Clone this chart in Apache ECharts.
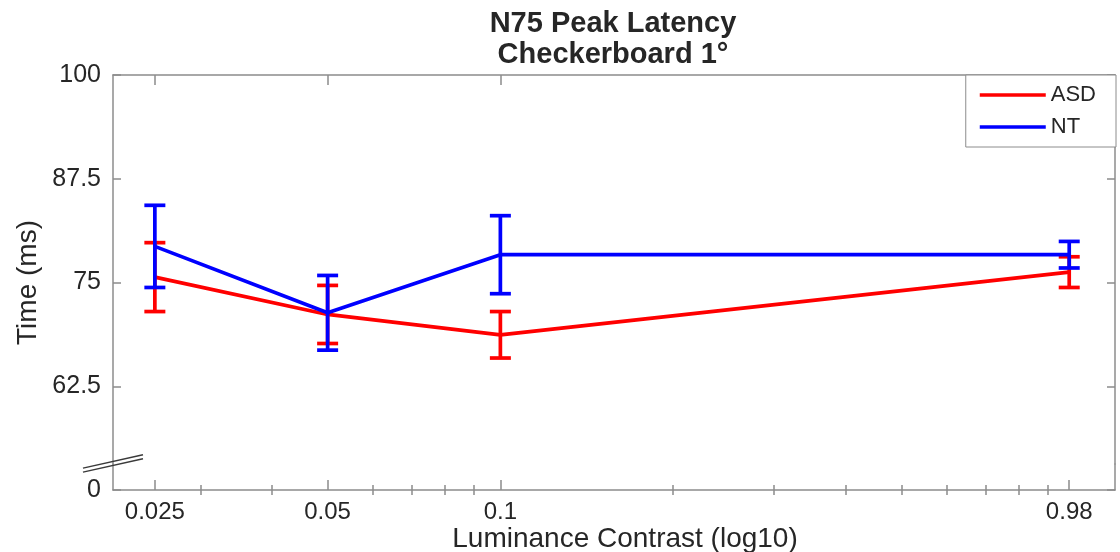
<!DOCTYPE html>
<html>
<head>
<meta charset="utf-8">
<style>
  html, body { margin: 0; padding: 0; background: #ffffff; }
  #chart { width: 1120px; height: 552px; }
</style>
<script src="https://cdn.jsdelivr.net/npm/echarts@6/dist/echarts.min.js"></script>
</head>
<body>
<div id="chart"></div>
<script>
// Luminance contrast levels (x positions, drawn on a log10 scale)
const contrast = [0.025, 0.05, 0.1, 0.98];
// Minor tick positions on the log axis
const minorContrast = [0.03, 0.04, 0.06, 0.07, 0.08, 0.09, 0.2, 0.3, 0.4, 0.5, 0.6, 0.7, 0.8, 0.9];
// N75 peak latency (ms): group means and error half-widths
const asdMean = [75.65, 71.15, 68.7, 76.25];
const asdErr  = [4.15, 3.5, 2.8, 1.85];
const ntMean  = [79.35, 71.35, 78.35, 78.35];
const ntErr   = [4.95, 4.5, 4.7, 1.6];
// Y axis tick labels and the collapsed (broken) range
const yTicks = [0, 62.5, 75, 87.5, 100];
const yBreak = { start: 3.2, end: 53.2 };
// Log10 extent of the x axis
const xLogMin = -1.675;
const xLogMax = 0.071;

const FONT = '"Liberation Sans", Arial, Helvetica, sans-serif';
const TEXT = '#262626';
const AXIS = '#8c8c8c';
const RED = '#ff0000';
const BLUE = '#0000ff';
const LINE_W = 3.7;

const lx = v => Math.log10(v);
const majorLog = contrast.map(lx);
const minorLog = minorContrast.map(lx);
const fmtContrast = v => String(Number(Math.pow(10, v).toPrecision(3)));

function meanPoints(mean) {
  return contrast.map((c, i) => [lx(c), mean[i]]);
}
function errRows(mean, err) {
  return contrast.map((c, i) => [lx(c), mean[i] - err[i], mean[i] + err[i]]);
}
function errorBarRenderer(color) {
  return function (params, api) {
    const x = api.value(0);
    const lo = api.coord([x, api.value(1)]);
    const hi = api.coord([x, api.value(2)]);
    const hw = 10.5;
    const style = { stroke: color, lineWidth: LINE_W };
    return {
      type: 'group',
      children: [
        { type: 'line', shape: { x1: lo[0], y1: lo[1], x2: hi[0], y2: hi[1] }, style: style },
        { type: 'line', shape: { x1: lo[0] - hw, y1: lo[1], x2: lo[0] + hw, y2: lo[1] }, style: style },
        { type: 'line', shape: { x1: hi[0] - hw, y1: hi[1], x2: hi[0] + hw, y2: hi[1] }, style: style }
      ]
    };
  };
}

const baseX = {
  type: 'value', min: xLogMin, max: xLogMax,
  splitLine: { show: false },
  axisLine: { show: true, onZero: false, lineStyle: { color: AXIS, width: 1.5 } }
};
const baseY = {
  type: 'value', min: 0, max: 100, interval: 12.5,
  breaks: [{ start: yBreak.start, end: yBreak.end, gap: 0 }],
  breakArea: { show: false },
  splitLine: { show: false },
  axisLine: { show: true, onZero: false, lineStyle: { color: AXIS, width: 1.5 } }
};

const chart = echarts.init(document.getElementById('chart'), null, { renderer: 'canvas' });

chart.setOption({
  animation: false,
  backgroundColor: '#ffffff',
  textStyle: { fontFamily: FONT },
  title: {
    text: 'N75 Peak Latency\nCheckerboard 1°',
    left: 613, top: 8, textAlign: 'center', padding: 0,
    textStyle: { fontFamily: FONT, fontSize: 29, fontWeight: 'bold', color: TEXT, lineHeight: 31 }
  },
  legend: {
    data: ['ASD', 'NT'],
    orient: 'vertical', right: 4, top: 75,
    backgroundColor: '#ffffff', borderColor: AXIS, borderWidth: 1, borderRadius: 0,
    padding: [8, 20, 8, 14], itemGap: 8,
    icon: 'rect', itemWidth: 66, itemHeight: 3.5,
    textStyle: { fontFamily: FONT, fontSize: 22, color: TEXT, lineHeight: 24 }
  },
  grid: { left: 113, right: 5, top: 75, bottom: 62, containLabel: false, outerBoundsMode: 'none' },
  xAxis: [
    Object.assign({}, baseX, {
      position: 'bottom',
      name: 'Luminance Contrast (log10)', nameLocation: 'middle', nameGap: 35, nameMoveOverlap: false,
      nameTextStyle: { fontFamily: FONT, fontSize: 28, color: TEXT, padding: [0, 0, 0, 22] },
      axisTick: { show: true, inside: true, length: 10, customValues: majorLog, lineStyle: { color: AXIS, width: 1.5 } },
      axisLabel: { show: true, customValues: majorLog, formatter: fmtContrast, margin: 10, fontFamily: FONT, fontSize: 24, color: TEXT }
    }),
    Object.assign({}, baseX, {
      position: 'bottom',
      axisLine: { show: false },
      axisTick: { show: true, inside: true, length: 5, customValues: minorLog, lineStyle: { color: AXIS, width: 1.5 } },
      axisLabel: { show: false }
    }),
    Object.assign({}, baseX, {
      position: 'top',
      axisTick: { show: true, inside: true, length: 10, customValues: majorLog, lineStyle: { color: AXIS, width: 1.5 } },
      axisLabel: { show: false }
    }),
    Object.assign({}, baseX, {
      position: 'top',
      axisLine: { show: false },
      axisTick: { show: true, inside: true, length: 5, customValues: minorLog, lineStyle: { color: AXIS, width: 1.5 } },
      axisLabel: { show: false }
    })
  ],
  yAxis: [
    Object.assign({}, baseY, {
      position: 'left',
      name: 'Time (ms)', nameLocation: 'middle', nameGap: 71, nameMoveOverlap: false,
      nameTextStyle: { fontFamily: FONT, fontSize: 28, color: TEXT },
      axisTick: { show: true, inside: true, length: 8, customValues: yTicks, lineStyle: { color: AXIS, width: 1.5 } },
      axisLabel: { show: true, customValues: yTicks, margin: 12, fontFamily: FONT, fontSize: 25, color: TEXT }
    }),
    Object.assign({}, baseY, {
      position: 'right',
      axisTick: { show: true, inside: true, length: 8, customValues: yTicks, lineStyle: { color: AXIS, width: 1.5 } },
      axisLabel: { show: false }
    })
  ],
  series: [
    {
      name: 'ASD', type: 'line', xAxisIndex: 0, yAxisIndex: 0,
      data: meanPoints(asdMean), symbol: 'none', z: 3,
      itemStyle: { color: RED }, lineStyle: { color: RED, width: LINE_W }
    },
    {
      name: 'ASD error', type: 'custom', xAxisIndex: 0, yAxisIndex: 0, z: 3,
      data: errRows(asdMean, asdErr), encode: { x: 0, y: [1, 2] },
      renderItem: errorBarRenderer(RED), silent: true
    },
    {
      name: 'NT', type: 'line', xAxisIndex: 0, yAxisIndex: 0,
      data: meanPoints(ntMean), symbol: 'none', z: 4,
      itemStyle: { color: BLUE }, lineStyle: { color: BLUE, width: LINE_W }
    },
    {
      name: 'NT error', type: 'custom', xAxisIndex: 0, yAxisIndex: 0, z: 4,
      data: errRows(ntMean, ntErr), encode: { x: 0, y: [1, 2] },
      renderItem: errorBarRenderer(BLUE), silent: true
    },
    {
      // double-slash marker where the y axis is broken
      name: 'axis break', type: 'custom', xAxisIndex: 0, yAxisIndex: 0, z: 10,
      clip: false, silent: true,
      data: [[xLogMin, yBreak.start]], encode: { x: 0, y: 1 },
      renderItem: function (params, api) {
        const p = api.coord([api.value(0), api.value(1)]);
        const style = { stroke: '#3a3a3a', lineWidth: 1.5 };
        return {
          type: 'group',
          children: [
            { type: 'line', shape: { x1: p[0] - 30, y1: p[1] + 4.7, x2: p[0] + 30, y2: p[1] - 8.6 }, style: style },
            { type: 'line', shape: { x1: p[0] - 30, y1: p[1] + 8.7, x2: p[0] + 30, y2: p[1] - 4.6 }, style: style }
          ]
        };
      }
    }
  ]
});
</script>
</body>
</html>
